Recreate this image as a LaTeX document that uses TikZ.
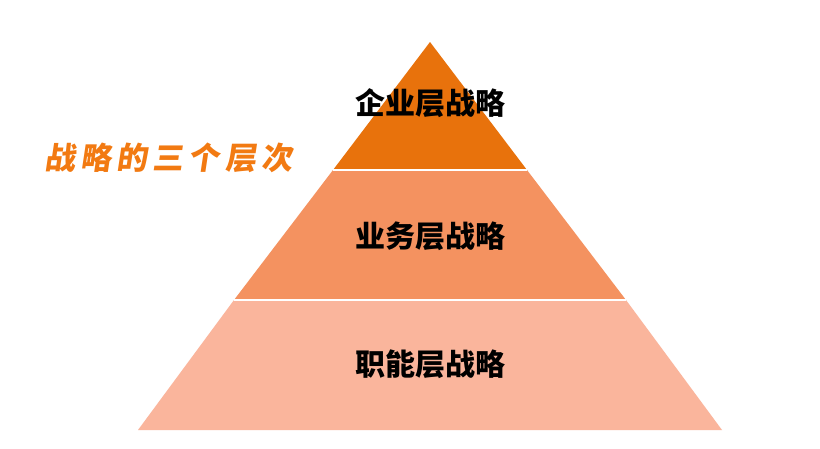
\documentclass[tikz,border=0pt]{standalone}
\usepackage{fontspec}
\newfontfamily\cjk{Noto Sans CJK SC}
\definecolor{t1}{HTML}{E8720C}
\definecolor{t2}{HTML}{F49260}
\definecolor{t3}{HTML}{FAB59C}
\definecolor{ttl}{HTML}{F27A12}
\begin{document}
\begin{tikzpicture}[x=1pt,y=-1pt,
  lab/.style={font=\cjk\bfseries\fontsize{30}{30}\selectfont,text=black},
  tier/.style={draw=white,line width=1.5pt}]
\useasboundingbox (0,0) rectangle (820,448);
\fill[white] (0,0) rectangle (820,448);
\coordinate (apex) at (430,42);
\fill[t3] (234,300) -- (626,300) -- (722,430) -- (138,430) -- cycle;
\fill[t2] (333,170) -- (527,170) -- (626,300) -- (234,300) -- cycle;
\fill[t1] (apex) -- (527,170) -- (333,170) -- cycle;
\draw[tier] (333,170) -- (527,170);
\draw[tier] (234,300) -- (626,300);
\node[lab] (a) at (430,103) {企业层战略};
\node[lab] (b) at (430,236) {业务层战略};
\node[lab] (c) at (430,364) {职能层战略};
\node[font=\cjk\bfseries\fontsize{31}{31}\selectfont,text=ttl,xslant=0.15] (t) at (170,158) {战\,略\,的\,三\,个\,层\,次};
\end{tikzpicture}
\end{document}
